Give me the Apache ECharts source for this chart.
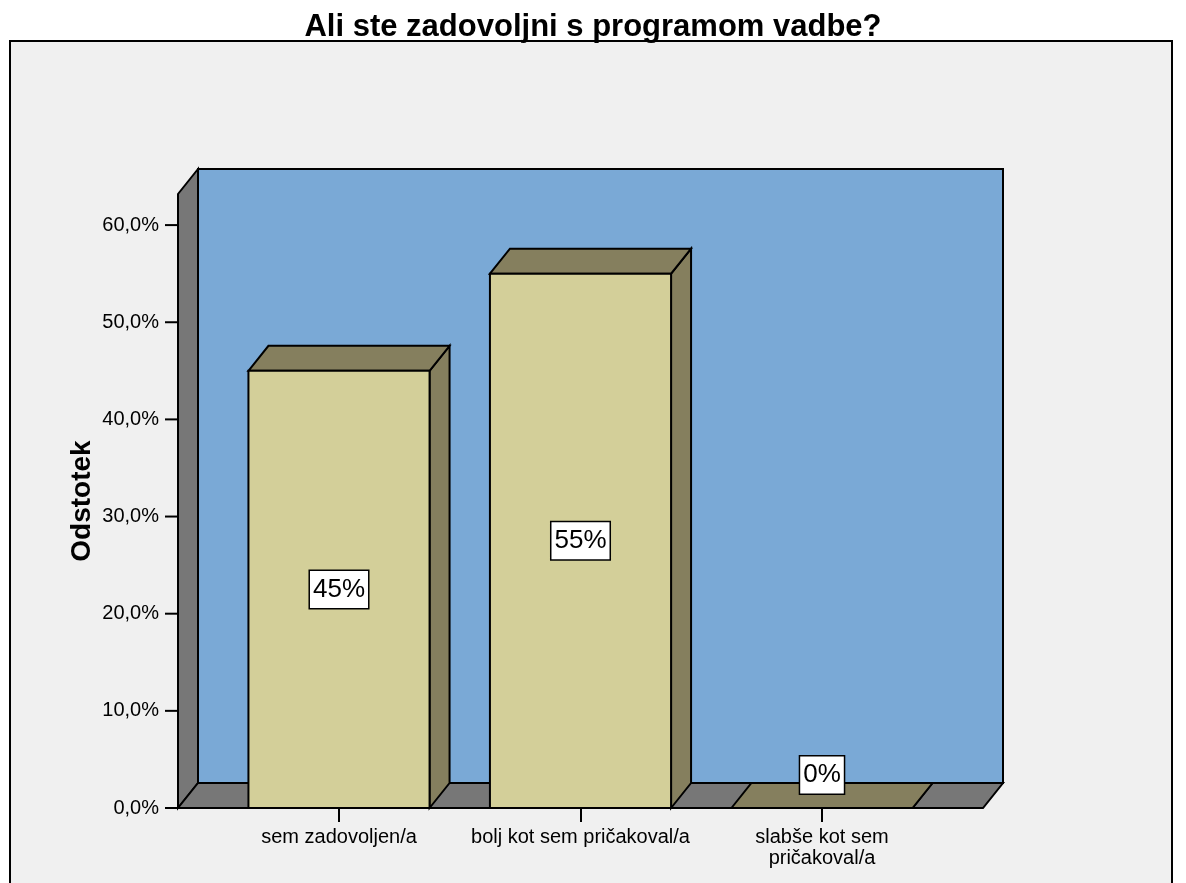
<!DOCTYPE html>
<html>
<head>
<meta charset="utf-8">
<script src="https://cdn.jsdelivr.net/npm/echarts@6/dist/echarts.min.js"></script>
<style>
  html, body { margin: 0; padding: 0; background: #ffffff; }
  #chart { width: 1186px; height: 883px; }
</style>
</head>
<body>
<div id="chart"></div>
<script>
// Answer categories and their shares (percent of respondents)
const categories = ['sem zadovoljen/a', 'bolj kot sem pričakoval/a', 'slabše kot sem\npričakoval/a'];
const percentValues = [45, 55, 0];
const percentLabels = ['45%', '55%', '0%'];
const yTickValues = [0, 10, 20, 30, 40, 50, 60];
const categoryPositions = [0, 1, 2];

// Axis extents (category slots sit at 0, 1, 2 on a continuous x axis)
const X_MIN = -2 / 3;
const X_MAX = 8 / 3;
const Y_MAX = 63.2;
const BAR_HALF = 0.375;
// Pseudo-3D depth offset in pixels (right, up)
const DEPTH = [20, -25];

const FONT = '"Liberation Sans", Arial, Helvetica, sans-serif';
const C_WALL_BACK = '#7aa9d6';
const C_WALL_SIDE = '#777777';
const C_BAR_FRONT = '#d3cf99';
const C_BAR_SHADE = '#857f5e';
const EDGE = { stroke: '#000', lineWidth: 2, lineJoin: 'miter' };

function shift(p) { return [p[0] + DEPTH[0], p[1] + DEPTH[1]]; }

function renderWalls(params, api) {
  const fl = api.coord([X_MIN, 0]);
  const fr = api.coord([X_MAX, 0]);
  const tl = api.coord([X_MIN, Y_MAX]);
  const tr = api.coord([X_MAX, Y_MAX]);
  const children = [
    { type: 'polygon', shape: { points: [shift(tl), shift(tr), shift(fr), shift(fl)] },
      style: Object.assign({ fill: C_WALL_BACK }, EDGE) },
    { type: 'polygon', shape: { points: [fl, shift(fl), shift(tl), tl] },
      style: Object.assign({ fill: C_WALL_SIDE }, EDGE) },
    { type: 'polygon', shape: { points: [fl, fr, shift(fr), shift(fl)] },
      style: Object.assign({ fill: C_WALL_SIDE }, EDGE) }
  ];
  // value-axis tick marks on the front edge of the side wall
  yTickValues.forEach(function (t) {
    const p = api.coord([X_MIN, t]);
    children.push({ type: 'line', shape: { x1: p[0] - 13, y1: p[1], x2: p[0], y2: p[1] },
      style: { stroke: '#000', lineWidth: 2 } });
  });
  return { type: 'group', children: children };
}

function renderBar(params, api) {
  const x = api.value(0);
  const v = api.value(1);
  const bl = api.coord([x - BAR_HALF, 0]);
  const br = api.coord([x + BAR_HALF, 0]);
  const tl = api.coord([x - BAR_HALF, v]);
  const tr = api.coord([x + BAR_HALF, v]);
  const base = api.coord([x, 0]);
  const mid = api.coord([x, v / 2]);
  const labelY = Math.min(mid[1], base[1] - 33);
  return {
    type: 'group',
    children: [
      { type: 'polygon', shape: { points: [br, shift(br), shift(tr), tr] },
        style: Object.assign({ fill: C_BAR_SHADE }, EDGE) },
      { type: 'polygon', shape: { points: [tl, shift(tl), shift(tr), tr] },
        style: Object.assign({ fill: C_BAR_SHADE }, EDGE) },
      { type: 'polygon', shape: { points: [bl, br, tr, tl] },
        style: Object.assign({ fill: C_BAR_FRONT }, EDGE) },
      { type: 'text', x: base[0], y: labelY, z2: 20,
        style: {
          text: percentLabels[params.dataIndex],
          font: '26px ' + FONT,
          fill: '#000',
          align: 'center',
          verticalAlign: 'middle',
          lineHeight: 30,
          backgroundColor: '#ffffff',
          borderColor: '#000',
          borderWidth: 1.5,
          padding: [4, 3, 3, 3]
        } }
    ]
  };
}

const chart = echarts.init(document.getElementById('chart'), null, { renderer: 'canvas' });

chart.setOption({
  backgroundColor: '#ffffff',
  animation: false,
  title: {
    text: 'Ali ste zadovoljni s programom vadbe?',
    left: 'center',
    top: 7,
    textStyle: { fontFamily: FONT, fontSize: 31, fontWeight: 'bold', color: '#000' }
  },
  graphic: [
    { type: 'rect', left: 9, top: 40, z: -10,
      shape: { width: 1162, height: 870 },
      style: { fill: '#f0f0f0', stroke: '#000', lineWidth: 2 } }
  ],
  grid: { left: 178, right: 203, top: 194, bottom: 75, containLabel: false },
  xAxis: {
    type: 'value',
    min: X_MIN,
    max: X_MAX,
    axisLine: { show: false },
    splitLine: { show: false },
    axisTick: { show: true, customValues: categoryPositions, length: 14,
      lineStyle: { color: '#000', width: 2 } },
    axisLabel: {
      customValues: categoryPositions,
      formatter: function (v) { return categories[Math.round(v)]; },
      margin: 19,
      color: '#000',
      fontFamily: FONT,
      fontSize: 20,
      lineHeight: 21,
      align: 'center'
    }
  },
  yAxis: {
    type: 'value',
    min: 0,
    max: Y_MAX,
    interval: 10,
    name: 'Odstotek',
    nameLocation: 'middle',
    nameRotate: 90,
    nameGap: 82,
    nameMoveOverlap: false,
    nameTextStyle: { fontFamily: FONT, fontSize: 28, fontWeight: 'bold', color: '#000' },
    axisLine: { show: false },
    splitLine: { show: false },
    axisTick: { show: false },
    axisLabel: {
      customValues: yTickValues,
      formatter: function (v) { return v.toFixed(1).replace('.', ',') + '%'; },
      margin: 19,
      color: '#000',
      fontFamily: FONT,
      fontSize: 20
    }
  },
  series: [
    {
      type: 'custom',
      name: 'walls',
      clip: false,
      silent: true,
      data: [[0, 0]],
      renderItem: renderWalls,
      z: 1
    },
    {
      type: 'custom',
      name: 'Odstotek',
      clip: false,
      data: categoryPositions.map(function (p, i) { return [p, percentValues[i]]; }),
      renderItem: renderBar,
      z: 3
    }
  ]
});
</script>
</body>
</html>
